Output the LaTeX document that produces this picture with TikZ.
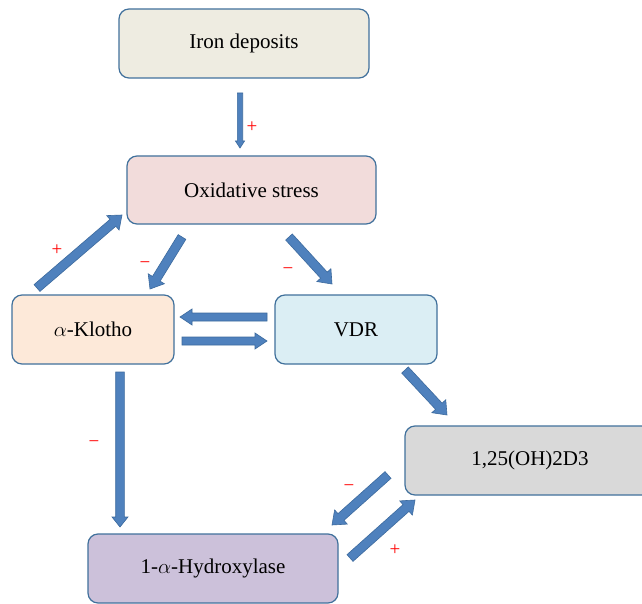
\documentclass[tikz,border=0pt]{standalone}
\usepackage{fontspec}
\setmainfont{Liberation Serif}
\usetikzlibrary{calc}
\definecolor{bordc}{HTML}{41719C}
\definecolor{arrfill}{HTML}{4F81BD}
\definecolor{arrdraw}{HTML}{3C6A9E}
\definecolor{ironc}{HTML}{EEECE1}
\definecolor{oxic}{HTML}{F2DCDB}
\definecolor{klothoc}{HTML}{FDE9D9}
\definecolor{vdrc}{HTML}{DBEEF4}
\definecolor{dthreec}{HTML}{D9D9D9}
\definecolor{hydc}{HTML}{CCC1DA}
\definecolor{signc}{HTML}{FF0000}
\tikzset{
  box/.style={draw=bordc, line width=1.2pt, rounded corners=10pt, minimum width=250pt, minimum height=69pt, inner sep=0pt, font=\fontsize{21}{25}\selectfont, text=black},
  blockarrow/.style={fill=arrfill, draw=arrdraw, line width=0.6pt, line join=miter},
  sign/.style={text=signc, inner sep=0pt, font=\fontsize{19}{22}\selectfont}
}
\newcommand\blockarr[5]{%
  \coordinate (bb) at ($(#2)!#5!(#1)$);
  \filldraw[blockarrow] ($(#1)!#3!90:(#2)$) -- ($(bb)!#3!90:(#2)$) -- ($(bb)!#4!90:(#2)$) -- (#2) -- ($(bb)!#4!-90:(#2)$) -- ($(bb)!#3!-90:(#2)$) -- ($(#1)!#3!-90:(#2)$) -- cycle;}
\begin{document}
\begin{tikzpicture}[x=1pt, y=-1pt]
\clip (0,0) rectangle (642,604);
\fill[white] (0,0) rectangle (642,604);
% boxes
\node[box, fill=ironc] (iron) at (244,43.5) {Iron deposits};
\node[box, fill=oxic, minimum width=249pt, minimum height=68pt] (oxi) at (251.5,190) {\raisebox{-2pt}{Oxidative stress}};
\node[box, fill=klothoc, minimum width=162pt] (klotho) at (93,329.5) {$\alpha$-Klotho};
\node[box, fill=vdrc, minimum width=162pt] (vdr) at (356,329.5) {VDR};
\node[box, fill=dthreec] (dthree) at (530,460.5) {1,25(OH)2D3};
\node[box, fill=hydc] (hyd) at (213,568.5) {1-$\alpha$-Hydroxylase};
% arrow end points
\coordinate (ironS) at (240,93);   \coordinate (oxiN) at (240,148);
\coordinate (klothoNE) at (37,288); \coordinate (oxiSW) at (122,215);
\coordinate (oxiSa) at (182,237);  \coordinate (klothoN) at (150,289);
\coordinate (oxiSb) at (289,237);  \coordinate (vdrN) at (332,284);
\coordinate (vdrW) at (267,317);   \coordinate (klothoE) at (180,317);
\coordinate (klothoEb) at (182,341); \coordinate (vdrWb) at (267,341);
\coordinate (klothoS) at (120,372); \coordinate (hydN) at (120,527);
\coordinate (vdrSE) at (405,370);  \coordinate (dthreeNW) at (447,415);
\coordinate (dthreeW) at (388,475); \coordinate (hydNE) at (332,525);
\coordinate (hydE) at (350,558);   \coordinate (dthreeSW) at (415,500);
% block arrows
\blockarr{ironS}{oxiN}{2.7pt}{4.6pt}{7pt}
\blockarr{klothoNE}{oxiSW}{4.5pt}{9.5pt}{12pt}
\blockarr{oxiSa}{klothoN}{4.5pt}{9.5pt}{12pt}
\blockarr{oxiSb}{vdrN}{4.5pt}{9.5pt}{12pt}
\blockarr{vdrW}{klothoE}{4pt}{8pt}{12pt}
\blockarr{klothoEb}{vdrWb}{4pt}{8pt}{12pt}
\blockarr{klothoS}{hydN}{4.3pt}{8pt}{10pt}
\blockarr{vdrSE}{dthreeNW}{4.5pt}{9.5pt}{12pt}
\blockarr{dthreeW}{hydNE}{4.5pt}{9.5pt}{12pt}
\blockarr{hydE}{dthreeSW}{4.5pt}{9.5pt}{12pt}
% signs
\node[sign] (s1) at (252,127) {+};
\node[sign] (s2) at (57,250) {+};
\node[sign] (s3) at (145,265) {−};
\node[sign] (s4) at (288,271) {−};
\node[sign] (s5) at (94,444) {−};
\node[sign] (s6) at (349,488) {−};
\node[sign] (s7) at (395,550) {+};
\end{tikzpicture}
\end{document}
